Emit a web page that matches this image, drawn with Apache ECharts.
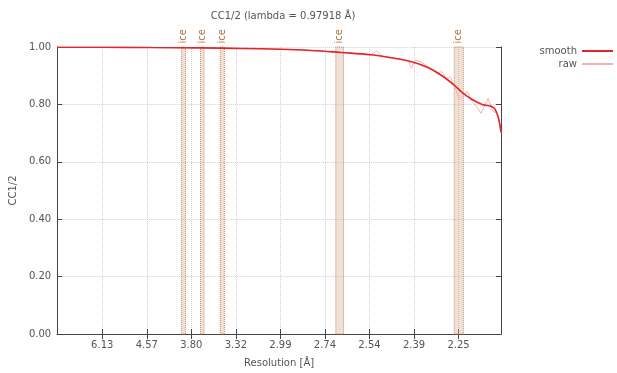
<!DOCTYPE html>
<html>
<head>
<meta charset="utf-8">
<script src="https://cdn.jsdelivr.net/npm/echarts@6/dist/echarts.min.js"></script>
<style>
  html, body { margin: 0; padding: 0; background: #fff; }
  #chart { width: 617px; height: 373px; }
</style>
</head>
<body>
<div id="chart"></div>
<script>
// x is 1/d^2 (A^-2), y is CC1/2
const xMin = 0.00504;
const xMax = 0.2173;
const tickS = [0.0266, 0.0479, 0.0692, 0.0905, 0.1118, 0.1331, 0.1544, 0.1757, 0.1970];
const tickLabels = ["6.13", "4.57", "3.80", "3.32", "2.99", "2.74", "2.54", "2.39", "2.25"];

// ice ring bands, resolution in A (outer, inner)
const iceRings = [
  [3.936, 3.880],
  [3.686, 3.645],
  [3.469, 3.430],
  [2.689, 2.654],
  [2.265, 2.240],
];

const smoothData = [
  [0.0050, 0.999], [0.0265, 0.999], [0.0503, 0.998], [0.0741, 0.997],
  [0.0931, 0.995], [0.1121, 0.992], [0.1264, 0.988], [0.1407, 0.981],
  [0.1550, 0.973], [0.1669, 0.960], [0.1750, 0.948], [0.1826, 0.928],
  [0.1893, 0.899], [0.1954, 0.864], [0.1988, 0.841], [0.2035, 0.817],
  [0.2083, 0.800], [0.2131, 0.792], [0.2145, 0.783], [0.2159, 0.757],
  [0.2168, 0.728], [0.2173, 0.702],
];

const rawData = [
  [0.0050, 0.999], [0.0265, 0.999], [0.0503, 0.998], [0.0741, 0.997],
  [0.0931, 0.995], [0.1121, 0.992], [0.1264, 0.988], [0.1407, 0.981],
  [0.1550, 0.973], [0.1578, 0.987], [0.1602, 0.969], [0.1669, 0.961],
  [0.1716, 0.955], [0.1731, 0.950], [0.1745, 0.927], [0.1764, 0.955],
  [0.1793, 0.947], [0.1835, 0.926], [0.1869, 0.906], [0.1888, 0.915],
  [0.1912, 0.891], [0.1931, 0.894], [0.1954, 0.859], [0.1973, 0.818],
  [0.1992, 0.829], [0.2011, 0.846], [0.2035, 0.811], [0.2059, 0.790],
  [0.2078, 0.769], [0.2111, 0.821], [0.2135, 0.776], [0.2154, 0.769],
  [0.2164, 0.741], [0.2173, 0.702],
];

const textColor = "#555";
const fontFamily = "DejaVu Sans";

const chart = echarts.init(document.getElementById("chart"));

const iceAreas = iceRings.map(([d1, d2]) => [
  { xAxis: 1 / (d1 * d1) },
  { xAxis: 1 / (d2 * d2) },
]);

const tickFormatter = (v) => {
  const i = tickS.findIndex((t) => Math.abs(t - v) < 1e-6);
  return i >= 0 ? tickLabels[i] : "";
};

chart.setOption({
  animation: false,
  textStyle: { fontFamily: fontFamily },
  title: {
    text: "CC1/2 (lambda = 0.97918 Å)",
    left: 278,
    textAlign: "center",
    top: 6,
    textStyle: { fontSize: 10, fontWeight: "normal", color: textColor, fontFamily: fontFamily },
  },
  legend: {
    data: ["smooth", "raw"],
    orient: "vertical",
    align: "right",
    right: 4,
    top: 45,
    padding: 0,
    itemGap: 1,
    icon: "rect",
    itemWidth: 31,
    itemHeight: 2,
    textStyle: { fontSize: 10, color: textColor, fontFamily: fontFamily, lineHeight: 12 },
  },
  grid: { left: 55, right: 116, top: 47, bottom: 39 },
  xAxis: [
    {
      type: "value",
      min: xMin,
      max: xMax,
      name: "Resolution [Å]",
      nameLocation: "middle",
      nameGap: 24,
      nameTextStyle: { fontSize: 10, color: textColor },
      axisLine: { lineStyle: { color: "#444" } },
      axisTick: { inside: true, length: 5, customValues: tickS, lineStyle: { color: "#444" } },
      axisLabel: { customValues: tickS, formatter: tickFormatter, fontSize: 10, color: textColor, margin: 6 },
      splitLine: { show: true, lineStyle: { type: "dotted", color: "#cfcfcf" } },
    },
    {
      type: "value",
      position: "top",
      min: xMin,
      max: xMax,
      axisLine: { lineStyle: { color: "#444" } },
      axisTick: { inside: true, length: 5, customValues: tickS, lineStyle: { color: "#444" } },
      axisLabel: { show: false },
      splitLine: { show: false },
    },
  ],
  yAxis: [
    {
      type: "value",
      min: 0,
      max: 1,
      interval: 0.2,
      name: "CC1/2",
      nameLocation: "middle",
      nameGap: 38,
      nameTextStyle: { fontSize: 10, color: textColor },
      axisLine: { show: true, lineStyle: { color: "#444" } },
      axisTick: { show: true, inside: true, length: 5, lineStyle: { color: "#444" } },
      axisLabel: { formatter: (v) => v.toFixed(2), fontSize: 10, color: textColor, margin: 6 },
      splitLine: { show: true, lineStyle: { type: "dotted", color: "#cfcfcf" } },
    },
    {
      type: "value",
      position: "right",
      min: 0,
      max: 1,
      interval: 0.2,
      axisLine: { show: true, lineStyle: { color: "#444" } },
      axisTick: { show: true, inside: true, length: 5, lineStyle: { color: "#444" } },
      axisLabel: { show: false },
      splitLine: { show: false },
    },
  ],
  series: [
    {
      name: "ice",
      type: "line",
      data: [],
      z: 1,
      markArea: {
        silent: true,
        itemStyle: {
          color: "rgba(214, 180, 158, 0.4)",
          borderColor: "#c98a62",
          borderWidth: 1,
          borderType: "dotted",
        },
        label: {
          show: true,
          position: "top",
          formatter: "ice",
          rotate: 90,
          align: "left",
          verticalAlign: "middle",
          distance: 3,
          fontSize: 10,
          color: "#b0703f",
          fontFamily: fontFamily,
        },
        data: iceAreas,
      },
    },
    {
      name: "raw",
      type: "line",
      data: rawData,
      symbol: "none",
      z: 2,
      lineStyle: { color: "#f7b0b0", width: 1 },
      itemStyle: { color: "#f7b0b0" },
    },
    {
      name: "smooth",
      type: "line",
      data: smoothData,
      symbol: "none",
      smooth: 0.4,
      z: 3,
      lineStyle: { color: "#e3242b", width: 1.6 },
      itemStyle: { color: "#e3242b" },
    },
  ],
});
</script>
</body>
</html>
